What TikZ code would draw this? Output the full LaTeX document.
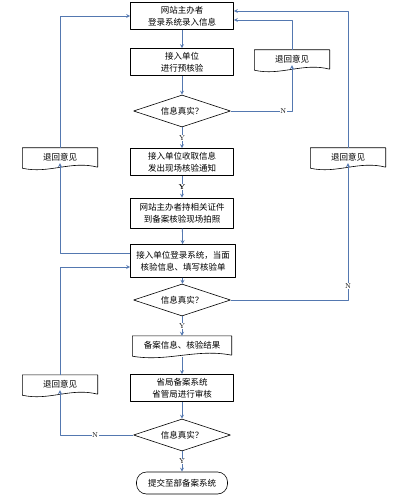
\documentclass[tikz,border=0pt]{standalone}
\usepackage{fontspec}
\newfontfamily\cjk{Noto Sans CJK SC}
\usetikzlibrary{shapes.geometric,calc}
\definecolor{flowblue}{RGB}{84,120,176}
% outline of a document shape (wavy bottom) round a node
\newcommand{\docoutline}[1]{%
  \draw[line width=0.6pt] ([yshift=-2pt]#1.south west) -- (#1.north west) -- (#1.north east) -- ([yshift=-1pt]#1.south east)
    .. controls ($(#1.south east)!0.35!(#1.south west)+(0,6pt)$) and ($(#1.south east)!0.65!(#1.south west)+(0,-8pt)$) .. ([yshift=-2pt]#1.south west);}
\begin{document}
\begin{tikzpicture}[x=1pt, y=-1pt, >=stealth, line join=round,
    font=\cjk\fontsize{8.5}{12}\selectfont,
    stepbox/.style={draw, line width=0.6pt, minimum width=103pt, minimum height=27pt, align=center, inner sep=1pt},
    askbox/.style={diamond, draw, line width=0.6pt, shape aspect=3, inner sep=0pt, minimum width=97pt, minimum height=32pt},
    docbox/.style={minimum width=75pt, minimum height=18pt, inner sep=1pt},
    endbox/.style={draw, line width=0.6pt, rounded corners=10pt, minimum width=91pt, minimum height=22pt},
    flow/.style={->, flowblue, line width=0.8pt},
    yn/.style={fill=white, inner sep=0.5pt, text=black, font=\fontsize{7}{7}\selectfont}]
    \useasboundingbox (0,0) rectangle (400,497);
    % main column
    \node[stepbox] (b1) at (182,16) {网站主办者\\登录系统录入信息};
    \node[stepbox] (b2) at (182,62) {接入单位\\进行预核验};
    \node[askbox] (d1) at (182,111) {信息真实？};
    \node[stepbox] (b3) at (182,162) {接入单位收取信息\\发出现场核验通知};
    \node[stepbox, minimum height=30pt] (b4) at (182,213) {网站主办者持相关证件\\到备案核验现场拍照};
    \node[stepbox, minimum width=105pt, minimum height=33pt] (b5) at (183,261) {接入单位登录系统，当面\\核验信息、填写核验单};
    \node[askbox] (d2) at (182,300) {信息真实？};
    \node[docbox, minimum width=99pt] (r1) at (182,345) {备案信息、核验结果};
    \docoutline{r1}
    \node[stepbox] (b6) at (182,388) {省局备案系统\\省管局进行审核};
    \node[askbox] (d3) at (182,435) {信息真实？};
    \node[endbox] (e1) at (182,483) {提交至部备案系统};
    % returned opinions
    \node[docbox] (rj1) at (292,59) {退回意见};
    \docoutline{rj1}
    \node[docbox] (rj2) at (348,157) {退回意见};
    \docoutline{rj2}
    \node[docbox] (lj1) at (60,157) {退回意见};
    \docoutline{lj1}
    \node[docbox] (lj2) at (60,384) {退回意见};
    \docoutline{lj2}
    % main flow
    \draw[flow] (b1) -- (b2);
    \draw[flow] (b2) -- (d1);
    \draw[flow] (d1) -- node[yn] {Y} (b3);
    \draw[flow] (b3) -- node[yn] {\textbf{Y}} (b4);
    \draw[flow] (b4) -- (b5);
    \draw[flow] (b5) -- (d2);
    \draw[flow] (d2) -- node[yn] {Y} (r1);
    \draw[flow] ([yshift=-3pt]r1.south) -- (b6);
    \draw[flow] (b6) -- (d3);
    \draw[flow] (d3) -- node[yn] {Y} (e1);
    % loops back
    \draw[flow] (d1.east) -| node[yn, pos=0.43] {N} ([yshift=3pt]rj1.south);
    \draw[flow] (rj1.north) |- ([yshift=-4pt]b1.east);
    \draw[flow] (d2.east) -| node[yn, pos=0.55] {N} ([yshift=3pt]rj2.south);
    \draw[flow] (rj2.north) |- ([yshift=5pt]b1.east);
    \draw[flow] ([yshift=8pt]b5.west) -| ([yshift=3pt]lj1.south);
    \draw[flow] (lj1.north) |- (b1.west);
    \draw[flow] (d3.west) -| node[yn, pos=0.26] {N} ([yshift=3pt]lj2.south);
    \draw[flow] (lj2.north) |- ([yshift=-6pt]b5.west);
\end{tikzpicture}
\end{document}
